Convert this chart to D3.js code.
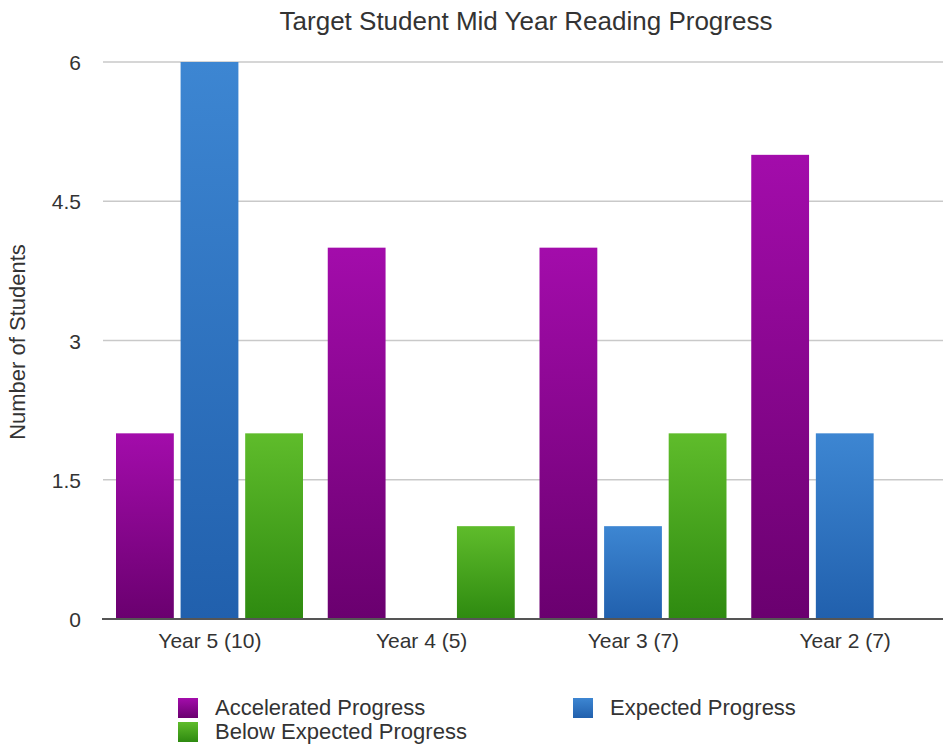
<!DOCTYPE html>
<html>
<head>
<meta charset="utf-8">
<script src="https://cdn.jsdelivr.net/npm/d3@7"></script>
<style>
  body { margin: 0; background: #fff; }
  text { font-family: "Liberation Sans", Arial, Helvetica, sans-serif; fill: #333; }
</style>
</head>
<body>
<div id="chart"></div>
<script>
// data
var groups = ["Year 5 (10)", "Year 4 (5)", "Year 3 (7)", "Year 2 (7)"]
var seriesNames = ["Accelerated Progress", "Expected Progress", "Below Expected Progress"]
var accelerated = [2, 4, 4, 5]
var expected = [6, 0, 1, 2]
var below = [2, 1, 2, 0]
var yTicks = [0, 1.5, 3, 4.5, 6]

var W = 943, H = 746
var svg = d3.select("#chart").append("svg")
  .attr("width", W)
  .attr("height", H)

// gradients for the bars (top -> bottom)
var grads = [
  {id: "gAcc", top: "#a30cab", bottom: "#6a006f"},
  {id: "gExp", top: "#3d86d2", bottom: "#2160ad"},
  {id: "gBel", top: "#5fbc2b", bottom: "#2e8a10"}
]
var defs = svg.append("defs")
grads.forEach(function(g) {
  var lg = defs.append("linearGradient")
    .attr("id", g.id)
    .attr("x1", 0).attr("y1", 0).attr("x2", 0).attr("y2", 1)
  lg.append("stop").attr("offset", "0%").attr("stop-color", g.top)
  lg.append("stop").attr("offset", "100%").attr("stop-color", g.bottom)
})

var x0 = d3.scaleBand()
  .domain(groups)
  .range([104, 951])
  .padding(0)

var x1 = d3.scaleBand()
  .domain(seriesNames)
  .range([12, 199])
  .paddingInner(0.105)
  .paddingOuter(0)

var y = d3.scaleLinear()
  .domain([0, 6])
  .range([619, 62])

// title
svg.append("text")
  .attr("x", 526)
  .attr("y", 30)
  .attr("text-anchor", "middle")
  .style("font-size", "26px")
  .text("Target Student Mid Year Reading Progress")

// grid lines
svg.append("g")
  .selectAll("line")
  .data(yTicks.filter(function(d) { return d > 0 }))
  .enter()
  .append("line")
    .attr("x1", 103)
    .attr("x2", W)
    .attr("y1", function(d) { return y(d) })
    .attr("y2", function(d) { return y(d) })
    .attr("stroke", "#c9c9c9")
    .attr("stroke-width", 1.5)

// y axis labels
var yAxis = svg.append("g")
  .attr("transform", "translate(81,0)")
  .call(d3.axisLeft(y).tickValues(yTicks).tickSize(0).tickPadding(0).tickFormat(d3.format("")))
yAxis.select(".domain").remove()
yAxis.selectAll("text")
  .style("font-size", "21px")
  .style("font-family", "Liberation Sans, Arial, sans-serif")
  .attr("fill", "#444")
  .attr("dy", "0.36em")

svg.append("text")
  .attr("transform", "translate(25,342) rotate(-90)")
  .attr("text-anchor", "middle")
  .style("font-size", "22px")
  .text("Number of Students")

// bars
var table = groups.map(function(g, i) {
  return {group: g, values: [
    {name: seriesNames[0], value: accelerated[i], fill: "url(#gAcc)"},
    {name: seriesNames[1], value: expected[i], fill: "url(#gExp)"},
    {name: seriesNames[2], value: below[i], fill: "url(#gBel)"}
  ]}
})

svg.append("g")
  .selectAll("g")
  .data(table)
  .enter()
  .append("g")
    .attr("transform", function(d) { return "translate(" + x0(d.group) + ",0)" })
  .selectAll("rect")
  .data(function(d) { return d.values.filter(function(v) { return v.value > 0 }) })
  .enter()
  .append("rect")
    .attr("x", function(d) { return x1(d.name) })
    .attr("y", function(d) { return y(d.value) })
    .attr("width", x1.bandwidth())
    .attr("height", function(d) { return y(0) - y(d.value) })
    .style("fill", function(d) { return d.fill })

// baseline
svg.append("line")
  .attr("x1", 102)
  .attr("x2", W)
  .attr("y1", y(0))
  .attr("y2", y(0))
  .attr("stroke", "#555")
  .attr("stroke-width", 2)

// x axis labels
var xAxis = svg.append("g")
  .attr("transform", "translate(0," + y(0) + ")")
  .call(d3.axisBottom(x0).tickSize(0).tickPadding(14))
xAxis.select(".domain").remove()
xAxis.selectAll("text")
  .style("font-size", "21px")
  .style("font-family", "Liberation Sans, Arial, sans-serif")
  .attr("fill", "#333")
  .attr("dy", "0.71em")

// legend
var legendPos = [
  {x: 178, y: 698},
  {x: 573, y: 698},
  {x: 178, y: 722}
]
var legendFill = ["url(#gAcc)", "url(#gExp)", "url(#gBel)"]
var legend = svg.append("g")
  .selectAll("g")
  .data(seriesNames)
  .enter()
  .append("g")
    .attr("transform", function(d, i) { return "translate(" + legendPos[i].x + "," + legendPos[i].y + ")" })
legend.append("rect")
  .attr("width", 20)
  .attr("height", 20)
  .style("fill", function(d, i) { return legendFill[i] })
legend.append("text")
  .attr("x", 37)
  .attr("y", 17)
  .style("font-size", "22px")
  .text(function(d) { return d })
</script>
</body>
</html>
